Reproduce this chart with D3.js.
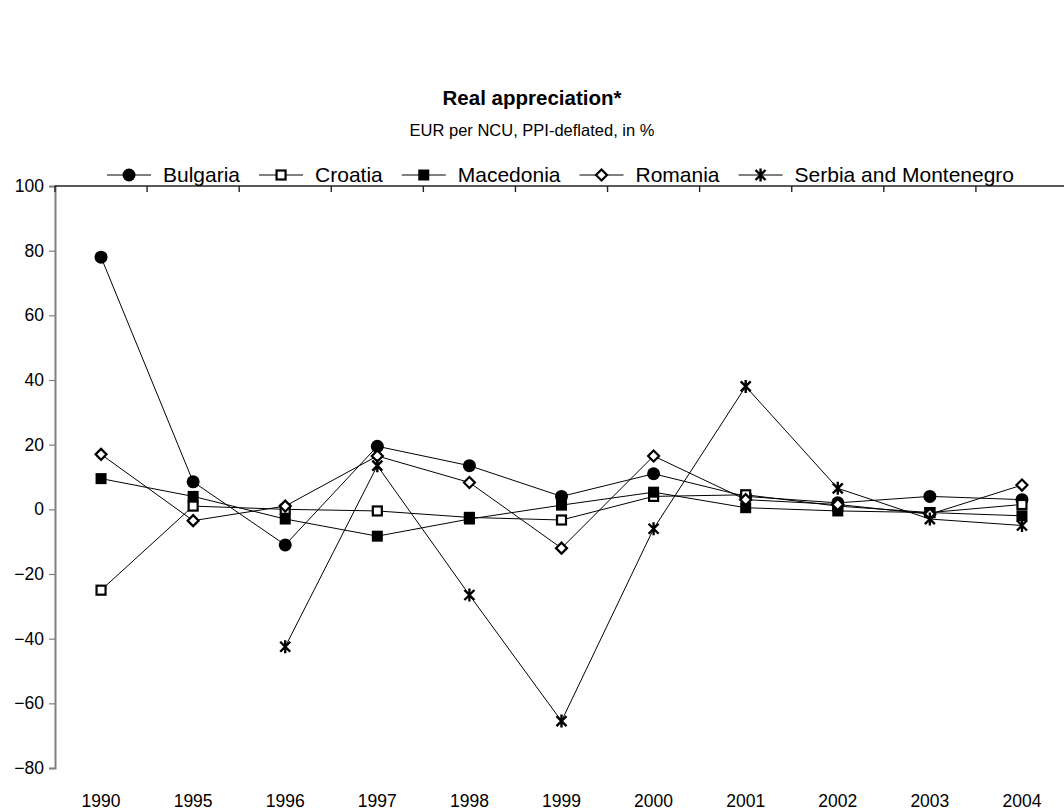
<!DOCTYPE html>
<html>
<head>
<meta charset="utf-8">
<script src="https://cdn.jsdelivr.net/npm/d3@7"></script>
<style>
  html, body { margin: 0; padding: 0; background: #fff; }
  svg { display: block; font-family: "Liberation Sans", Arial, sans-serif; }
</style>
</head>
<body>
<svg id="chart" width="1064" height="812"></svg>
<script>
// Categories along the x axis
const years = ["1990", "1995", "1996", "1997", "1998", "1999", "2000", "2001", "2002", "2003", "2004"];

// Real appreciation, EUR per NCU, PPI-deflated, in %
const bulgaria  = [78, 8.5, -11, 19.5, 13.5, 4, 11, 4, 2, 4, 3];
const croatia   = [-25, 1, 0, -0.5, -2.5, -3.3, 4, 4.5, 1, -1, 1.5];
const macedonia = [9.5, 4, -3, -8.3, -3, 1.3, 5.3, 0.5, -0.5, -1, -2];
const romania   = [17, -3.5, 1, 16.5, 8.3, -12, 16.5, 3, 1.5, -1.5, 7.5];
const serbia    = [null, null, -42.5, 13.5, -26.5, -65.5, -6, 38, 6.5, -3, -5];

const yTicks = [-80, -60, -40, -20, 0, 20, 40, 60, 80, 100];

const seriesNames = ["Bulgaria", "Croatia", "Macedonia", "Romania", "Serbia and Montenegro"];
const seriesValues = [bulgaria, croatia, macedonia, romania, serbia];
const seriesMarkers = ["circle", "openSquare", "square", "openDiamond", "star"];

const series = seriesNames.map((name, i) => ({
  name, marker: seriesMarkers[i],
  points: years.map((yr, j) => ({ year: yr, value: seriesValues[i][j] }))
}));

const svg = d3.select("#chart");
const plotLeft = 55, plotRight = 1068, plotTop = 186, plotBottom = 768;

const x = d3.scaleBand().domain(years).range([plotLeft, plotRight]);
const y = d3.scaleLinear().domain([-80, 100]).range([plotBottom, plotTop]);
const cx = d => x(d) + x.bandwidth() / 2;

// Marker painter shared by plot and legend
function drawMarker(g, type) {
  if (type === "circle") {
    g.append("circle").attr("r", 6.5).attr("fill", "#000");
  } else if (type === "square") {
    g.append("rect").attr("x", -5.5).attr("y", -5.5).attr("width", 11).attr("height", 11).attr("fill", "#000");
  } else if (type === "openSquare") {
    g.append("rect").attr("x", -4.5).attr("y", -4.5).attr("width", 9).attr("height", 9)
      .attr("fill", "#fff").attr("stroke", "#000").attr("stroke-width", 2.2);
  } else if (type === "openDiamond") {
    g.append("path").attr("d", "M0,-5.5L5.5,0L0,5.5L-5.5,0Z")
      .attr("fill", "#fff").attr("stroke", "#000").attr("stroke-width", 2.2);
  } else if (type === "star") {
    g.append("path").attr("d", "M-5,-5L5,5M-5,5L5,-5M0,-6.5L0,6.5")
      .attr("fill", "none").attr("stroke", "#000").attr("stroke-width", 2.4);
  }
}

// Title
svg.append("text").attr("x", 532).attr("y", 105).attr("text-anchor", "middle")
  .attr("font-size", 20.5).attr("font-weight", "bold").text("Real appreciation*");
svg.append("text").attr("x", 532).attr("y", 136).attr("text-anchor", "middle")
  .attr("font-size", 16.5).text("EUR per NCU, PPI-deflated, in %");

// Y axis (left)
const yAxis = d3.axisLeft(y).tickValues(yTicks).tickSize(6).tickPadding(5).tickFormat(d3.format("d"));
const gy = svg.append("g").attr("transform", `translate(${plotLeft},0)`).call(yAxis);
gy.select(".domain").attr("stroke", "#808080").attr("stroke-width", 2);
gy.selectAll(".tick line").attr("stroke", "#808080").attr("stroke-width", 1.2);
gy.selectAll(".tick text").attr("font-size", 17.5).attr("fill", "#000")
  .attr("font-family", "Liberation Sans, Arial, sans-serif");

// Category axis crossing at the top, ticks between categories
const boundaries = d3.range(years.length + 1).map(i => plotLeft + i * x.bandwidth());
svg.append("line").attr("x1", plotLeft).attr("x2", plotRight).attr("y1", plotTop).attr("y2", plotTop)
  .attr("stroke", "#222").attr("stroke-width", 1.6);
svg.selectAll(".xtick").data(boundaries).join("line").attr("class", "xtick")
  .attr("x1", d => d).attr("x2", d => d).attr("y1", plotTop).attr("y2", plotTop + 6)
  .attr("stroke", "#222").attr("stroke-width", 1.4);

// Category labels along the bottom
svg.selectAll(".xlabel").data(years).join("text").attr("class", "xlabel")
  .attr("x", d => cx(d)).attr("y", 807).attr("text-anchor", "middle")
  .attr("font-size", 17.5).text(d => d);

// Series lines and markers
const line = d3.line().defined(d => d.value !== null)
  .x(d => cx(d.year)).y(d => y(d.value));

const gs = svg.selectAll(".series").data(series).join("g").attr("class", "series");
gs.append("path").attr("d", d => line(d.points))
  .attr("fill", "none").attr("stroke", "#000").attr("stroke-width", 1);
gs.each(function(s) {
  d3.select(this).selectAll(".m").data(s.points.filter(p => p.value !== null)).join("g")
    .attr("class", "m")
    .attr("transform", p => `translate(${cx(p.year)},${y(p.value)})`)
    .each(function() { drawMarker(d3.select(this), s.marker); });
});

// Legend
const legend = svg.append("g").attr("transform", "translate(0,175)");
let lx = 107;
series.forEach(s => {
  const g = legend.append("g").attr("transform", `translate(${lx},0)`);
  g.append("line").attr("x1", 0).attr("x2", 44).attr("stroke", "#000").attr("stroke-width", 1);
  drawMarker(g.append("g").attr("transform", "translate(22,0)"), s.marker);
  const t = g.append("text").attr("x", 56).attr("y", 7).attr("font-size", 21).text(s.name);
  lx += 56 + t.node().getComputedTextLength() + 19;
});
</script>
</body>
</html>
